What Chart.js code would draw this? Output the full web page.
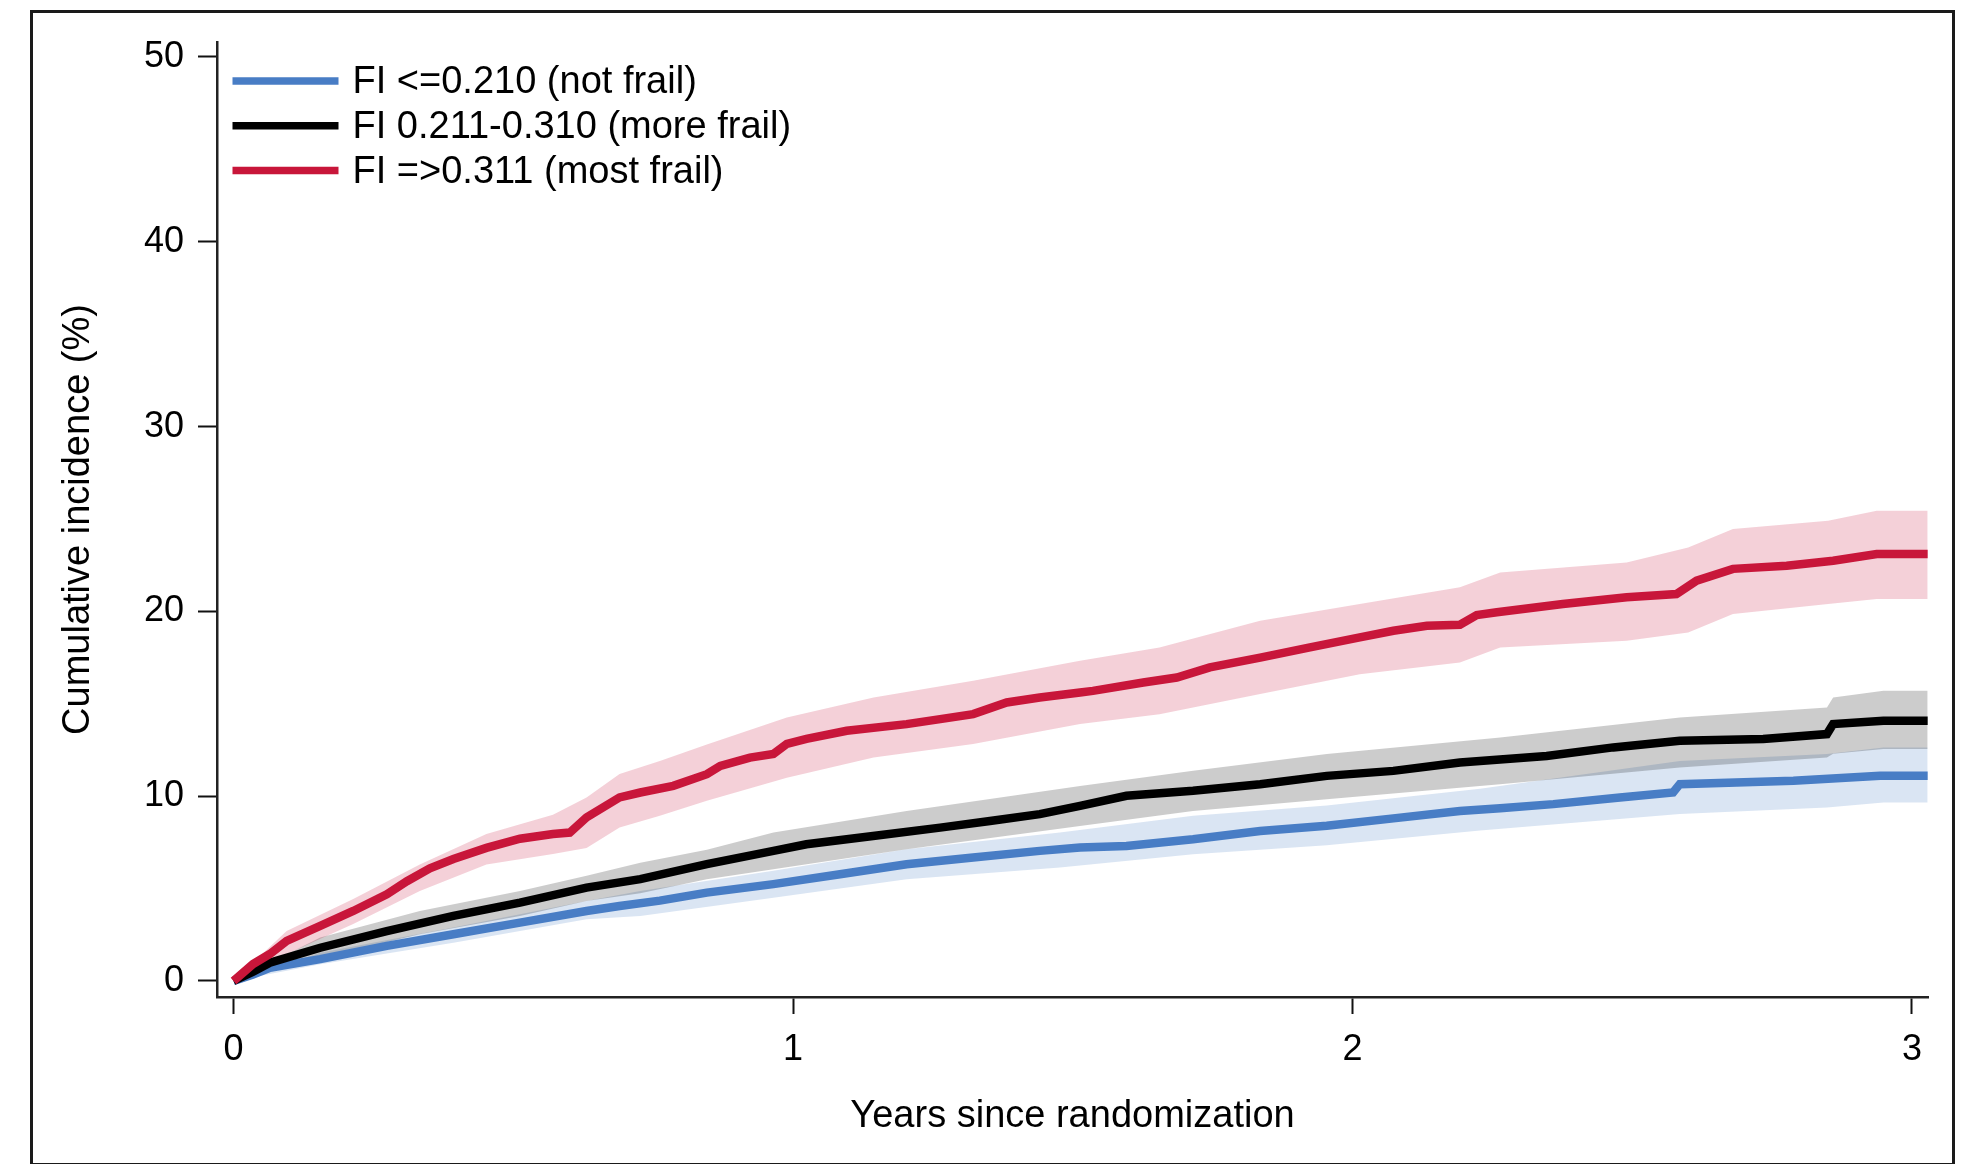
<!DOCTYPE html>
<html>
<head>
<meta charset="utf-8">
<script src="https://cdn.jsdelivr.net/npm/chart.js@4.4.1/dist/chart.umd.min.js"></script>
<style>
  html, body { margin: 0; padding: 0; background: #fff; }
  #wrap { position: relative; width: 1963px; height: 1164px; }
</style>
</head>
<body>
<div id="wrap"><canvas id="c"></canvas></div>
<script>
// ---------- data ----------
const groupLabels = ['FI <=0.210 (not frail)', 'FI 0.211-0.310 (more frail)', 'FI =>0.311 (most frail)'];
const xTitle = 'Years since randomization';
const yTitle = 'Cumulative incidence (%)';
const xTicks = [0, 1, 2, 3];
const yTicks = [0, 10, 20, 30, 40, 50];

// FI <= 0.210 (blue)
const blueT   = [0, 0.035, 0.065, 0.155, 0.274, 0.393, 0.512, 0.631, 0.69, 0.762, 0.846, 0.965, 1.084, 1.203, 1.322, 1.441, 1.513, 1.596, 1.715, 1.835, 1.954, 2.073, 2.192, 2.264, 2.359, 2.478, 2.573, 2.585, 2.788, 2.943, 3.028];
const blueV   = [0, 0.35, 0.72, 1.18, 1.9, 2.53, 3.16, 3.79, 4.06, 4.35, 4.78, 5.24, 5.78, 6.32, 6.68, 7.04, 7.22, 7.31, 7.67, 8.12, 8.4, 8.8, 9.2, 9.35, 9.57, 9.93, 10.2, 10.65, 10.83, 11.1, 11.1];
const blueCiT = [0, 0.155, 0.393, 0.631, 0.727, 0.965, 1.203, 1.477, 1.715, 1.954, 2.228, 2.585, 2.848, 2.949, 3.028];
const blueLo  = [0, 0.9, 2.07, 3.34, 3.52, 4.51, 5.51, 6.14, 6.86, 7.35, 8.15, 9.03, 9.39, 9.66, 9.66];
const blueHi  = [0, 1.53, 2.89, 4.33, 4.87, 5.96, 7.13, 8.03, 8.94, 9.5, 10.4, 11.91, 12.28, 12.64, 12.64];

// FI 0.211-0.310 (black)
const blackT   = [0, 0.035, 0.065, 0.155, 0.274, 0.393, 0.512, 0.631, 0.727, 0.846, 0.965, 1.024, 1.143, 1.263, 1.352, 1.441, 1.513, 1.596, 1.715, 1.835, 1.954, 2.073, 2.192, 2.347, 2.466, 2.585, 2.734, 2.848, 2.859, 2.949, 3.028];
const blackV   = [0, 0.5, 0.99, 1.8, 2.7, 3.52, 4.24, 5.05, 5.51, 6.32, 7.04, 7.4, 7.85, 8.3, 8.66, 9.03, 9.48, 10.02, 10.29, 10.65, 11.1, 11.37, 11.82, 12.18, 12.64, 13.0, 13.09, 13.36, 13.9, 14.08, 14.08];
const blackCiT = [0, 0.155, 0.333, 0.512, 0.631, 0.727, 0.846, 0.965, 1.203, 1.513, 1.715, 1.954, 2.264, 2.585, 2.848, 2.859, 2.949, 3.028];
const blackLo  = [0, 1.26, 2.53, 3.52, 4.33, 4.75, 5.5, 6.05, 7.13, 8.39, 9.2, 9.84, 10.65, 11.55, 12.09, 12.3, 12.55, 12.55];
const blackHi  = [0, 2.35, 3.79, 4.87, 5.69, 6.4, 7.1, 8.03, 9.2, 10.55, 11.37, 12.28, 13.18, 14.26, 14.8, 15.34, 15.7, 15.7];

// FI => 0.311 (red)
const redT   = [0, 0.035, 0.065, 0.095, 0.155, 0.214, 0.274, 0.31, 0.351, 0.393, 0.452, 0.512, 0.571, 0.601, 0.631, 0.69, 0.727, 0.786, 0.846, 0.87, 0.923, 0.965, 0.989, 1.024, 1.096, 1.203, 1.263, 1.322, 1.382, 1.441, 1.513, 1.536, 1.626, 1.686, 1.745, 1.835, 1.924, 2.013, 2.073, 2.133, 2.192, 2.222, 2.258, 2.376, 2.49, 2.579, 2.615, 2.68, 2.776, 2.859, 2.937, 3.028];
const redV   = [0, 0.92, 1.46, 2.17, 2.98, 3.79, 4.69, 5.4, 6.1, 6.6, 7.2, 7.7, 7.95, 8.03, 8.85, 9.93, 10.2, 10.56, 11.19, 11.64, 12.09, 12.29, 12.83, 13.1, 13.54, 13.9, 14.17, 14.44, 15.07, 15.34, 15.61, 15.7, 16.15, 16.42, 16.97, 17.5, 18.05, 18.59, 18.95, 19.22, 19.28, 19.8, 19.95, 20.4, 20.76, 20.94, 21.66, 22.3, 22.47, 22.74, 23.1, 23.1];
const redCiT = [0, 0.095, 0.214, 0.333, 0.452, 0.571, 0.631, 0.69, 0.762, 0.846, 0.989, 1.144, 1.322, 1.513, 1.655, 1.835, 2.013, 2.192, 2.264, 2.49, 2.6, 2.68, 2.85, 2.937, 3.028];
const redLo  = [0, 1.46, 3.08, 4.87, 6.3, 6.87, 7.2, 8.3, 8.94, 9.75, 11.0, 12.09, 12.82, 13.9, 14.44, 15.53, 16.6, 17.24, 18.05, 18.41, 18.86, 19.86, 20.4, 20.67, 20.67];
const redHi  = [0, 2.7, 4.44, 6.3, 7.95, 9.0, 9.93, 11.2, 11.9, 12.8, 14.26, 15.34, 16.25, 17.33, 18.05, 19.5, 20.4, 21.3, 22.1, 22.65, 23.46, 24.46, 24.9, 25.45, 25.45];

// ---------- styling ----------
const FONT = '"Liberation Sans", Arial, Helvetica, sans-serif';
const colBlue = 'rgb(72,125,197)';
const colBlack = 'rgb(0,0,0)';
const colRed = 'rgb(200,22,58)';
const bandBlue = 'rgba(72,125,197,0.2)';
const bandBlack = 'rgba(0,0,0,0.2)';
const bandRed = 'rgba(200,22,58,0.2)';
const LINE_W = 8.5;

const pts = (t, v) => t.map((x, i) => ({ x: x, y: v[i] }));

function line(label, t, v, color) {
  return { label, data: pts(t, v), borderColor: color, backgroundColor: color, borderWidth: LINE_W,
           pointRadius: 0, fill: false, stepped: false, tension: 0, borderJoinStyle: 'miter', borderCapStyle: 'butt' };
}
function bandHi(label, t, v, color) {
  return { label, data: pts(t, v), borderWidth: 0, borderColor: 'rgba(0,0,0,0)', backgroundColor: color,
           pointRadius: 0, fill: '+1', stepped: false, tension: 0 };
}
function bandLo(label, t, v) {
  return { label, data: pts(t, v), borderWidth: 0, borderColor: 'rgba(0,0,0,0)',
           pointRadius: 0, fill: false, stepped: false, tension: 0 };
}

const datasets = [
  line(groupLabels[2], redT, redV, colRed),
  line(groupLabels[1], blackT, blackV, colBlack),
  line(groupLabels[0], blueT, blueV, colBlue),
  bandHi('red hi', redCiT, redHi, bandRed),
  bandLo('red lo', redCiT, redLo),
  bandHi('black hi', blackCiT, blackHi, bandBlack),
  bandLo('black lo', blackCiT, blackLo),
  bandHi('blue hi', blueCiT, blueHi, bandBlue),
  bandLo('blue lo', blueCiT, blueLo),
];

// legend drawn inside the plot (Stata style), top-left
const legendOrder = [2, 1, 0]; // blue, black, red
const insideLegend = {
  id: 'insideLegend',
  afterDatasetsDraw(chart) {
    const { ctx, chartArea } = chart;
    const x0 = chartArea.left + 15.5, len = 106, y0 = chartArea.top + 39, step = 44.8;
    ctx.save();
    ctx.font = '38px ' + FONT;
    ctx.textBaseline = 'middle';
    ctx.textAlign = 'left';
    legendOrder.forEach((di, i) => {
      const ds = chart.data.datasets[di];
      const y = y0 + i * step;
      ctx.strokeStyle = ds.borderColor;
      ctx.lineWidth = 7.5;
      ctx.lineCap = 'butt';
      ctx.beginPath(); ctx.moveTo(x0, y); ctx.lineTo(x0 + len, y); ctx.stroke();
      ctx.fillStyle = '#000';
      ctx.fillText(ds.label, x0 + len + 14, y + 2);
    });
    ctx.restore();
  }
};

const frame = {
  id: 'frame',
  beforeDraw(chart) {
    const { ctx, width, height } = chart;
    ctx.save(); ctx.fillStyle = '#fff'; ctx.fillRect(0, 0, width, height); ctx.restore();
  },
  afterDraw(chart) {
    const { ctx, width, height } = chart;
    ctx.save();
    ctx.strokeStyle = '#1a1a1a';
    ctx.lineWidth = 3;
    ctx.strokeRect(31.5, 11.5, width - 31.5 - 9.5, height - 11.5 + 0.5);
    ctx.restore();
  }
};

new Chart(document.getElementById('c'), {
  type: 'line',
  data: { datasets },
  plugins: [frame, insideLegend],
  options: {
    responsive: true,
    maintainAspectRatio: false,
    animation: false,
    layout: { padding: { top: 42, right: 35, bottom: 0, left: 0 } },
    plugins: {
      legend: { display: false },
      tooltip: { enabled: false },
      filler: { drawTime: 'beforeDatasetsDraw', propagate: false }
    },
    scales: {
      x: {
        type: 'linear', min: -0.0295, max: 3.0286,
        afterBuildTicks: s => { s.ticks = xTicks.map(v => ({ value: v })); },
        afterFit: s => { s.height = 167; },
        grid: { display: true, drawOnChartArea: false, drawTicks: true, tickLength: 17, tickWidth: 2, tickColor: '#111' },
        border: { display: true, color: '#222', width: 2.5 },
        ticks: { font: { family: FONT, size: 36 }, color: '#000', padding: 14, maxRotation: 0, autoSkip: false },
        title: { display: true, text: xTitle, font: { family: FONT, size: 38 }, color: '#000', padding: { top: 0, bottom: 25 } }
      },
      y: {
        type: 'linear', min: -0.866, max: 50.81,
        afterBuildTicks: s => { s.ticks = yTicks.map(v => ({ value: v })); },
        afterFit: s => { s.width = 217; },
        grid: { display: true, drawOnChartArea: false, drawTicks: true, tickLength: 19, tickWidth: 2, tickColor: '#111' },
        border: { display: true, color: '#222', width: 2.5 },
        ticks: { font: { family: FONT, size: 36 }, color: '#000', padding: 14, autoSkip: false },
        title: { display: true, text: yTitle, font: { family: FONT, size: 38 }, color: '#000', padding: { top: 56, bottom: 0 } }
      }
    }
  }
});
</script>
</body>
</html>
